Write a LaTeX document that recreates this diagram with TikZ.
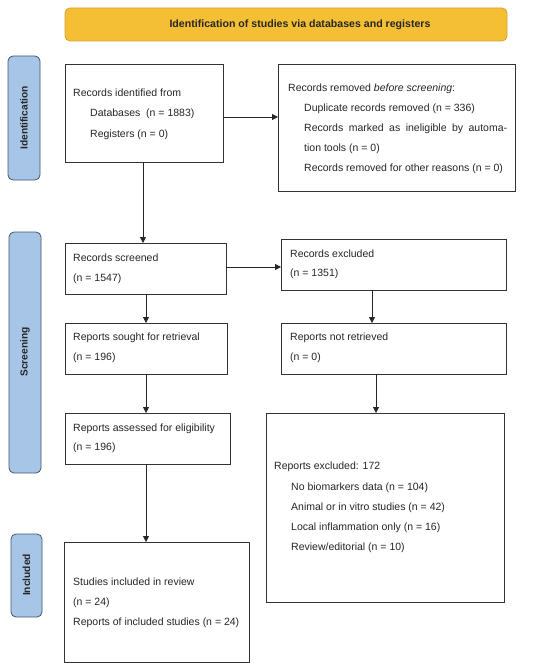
\documentclass[tikz,border=0pt]{standalone}
\usepackage{fontspec}
\setmainfont{Liberation Sans}
\usetikzlibrary{arrows.meta}
\definecolor{bannerfill}{HTML}{F5BF35}
\definecolor{bannerdraw}{HTML}{D2A22C}
\definecolor{sidefill}{HTML}{A6C5E7}
\definecolor{sidedraw}{HTML}{44546A}
\definecolor{boxdraw}{HTML}{333333}
\begin{document}
\begin{tikzpicture}[x=1pt,y=-1pt,
  box/.style={draw=boxdraw,line width=0.8pt,fill=white},
  txt/.style={anchor=west,inner sep=0pt,font=\fontsize{10.5}{12}\selectfont,text=black!85},
  side/.style={draw=sidedraw,fill=sidefill,rounded corners=5pt,line width=0.8pt},
  sidetxt/.style={rotate=90,font=\fontsize{10.2}{12}\selectfont\bfseries,text=black!85},
  arr/.style={line width=0.8pt,draw=black!85,-{Triangle[length=6pt,width=6pt]}}]
\useasboundingbox (0,0) rectangle (550,671);
% banner
\draw[draw=bannerdraw,fill=bannerfill,rounded corners=5pt,line width=0.8pt] (65,8) rectangle (507,41);
\node[font=\fontsize{10.6}{12}\selectfont\bfseries,text=black!85] (banner) at (300,25) {Identification of studies via databases and registers};
% side labels
\draw[side] (8,56) rectangle (40,180);
\node[sidetxt] (sideid) at (24,118) {Identification};
\draw[side] (9,232) rectangle (41,473);
\node[sidetxt] (sidescr) at (25,352) {Screening};
\draw[side] (11,534) rectangle (42,617);
\node[sidetxt] (sideinc) at (26.5,575) {Included};
% boxes
\draw[box] (65,64) rectangle (223,162);
\node[txt] (t1a) at (73,93) {Records identified from};
\node[txt] (t1b) at (90,114) {Databases\ \ (n = 1883)};
\node[txt] (t1c) at (90,135) {Registers (n = 0)};
\draw[box] (278,64) rectangle (515,191);
\node[txt] (t2a) at (288,89) {Records removed \textit{before screening}:};
\node[txt] (t2b) at (304,108.5) {Duplicate records removed (n = 336)};
\node[txt,text width=203pt,align=justify] (t2c) at (304,128.5) {Records\hfill marked\hfill as\hfill ineligible\hfill by\hfill automa-};
\node[txt] (t2d) at (304,149) {tion tools (n = 0)};
\node[txt] (t2e) at (304,169) {Records removed for other reasons (n = 0)};
\draw[box] (65,243) rectangle (226,294);
\node[txt] (t3a) at (73,258) {Records screened};
\node[txt] (t3b) at (73,279) {(n = 1547)};
\draw[box] (281,239) rectangle (506,290);
\node[txt] (t4a) at (290,254) {Records excluded};
\node[txt] (t4b) at (290,274) {(n = 1351)};
\draw[box] (65,323) rectangle (227,374);
\node[txt] (t5a) at (73,338) {Reports sought for retrieval};
\node[txt] (t5b) at (73,358) {(n = 196)};
\draw[box] (281,323) rectangle (506,374);
\node[txt] (t6a) at (290,338) {Reports not retrieved};
\node[txt] (t6b) at (290,358) {(n = 0)};
\draw[box] (65,413) rectangle (230,464);
\node[txt] (t7a) at (73,429) {Reports assessed for eligibility};
\node[txt] (t7b) at (73,448) {(n = 196)};
\draw[box] (266,413) rectangle (504,602);
\node[txt] (t8a) at (274,467) {Reports excluded: 172};
\node[txt] (t8b) at (291,488) {No biomarkers data (n = 104)};
\node[txt] (t8c) at (291,508) {Animal or in vitro studies (n = 42)};
\node[txt] (t8d) at (291,528) {Local inflammation only (n = 16)};
\node[txt] (t8e) at (291,548) {Review/editorial (n = 10)};
\draw[box] (64,542) rectangle (249,662);
\node[txt] (t9a) at (73,582) {Studies included in review};
\node[txt] (t9b) at (73,603) {(n = 24)};
\node[txt] (t9c) at (73,623) {Reports of included studies (n = 24)};
% connectors
\coordinate (b1r) at (223,117); \coordinate (b2l) at (278,117);
\draw[arr] (b1r) -- (b2l);
\coordinate (b1b) at (143,162); \coordinate (b3t) at (143,243);
\draw[arr] (b1b) -- (b3t);
\coordinate (b3r) at (226,267); \coordinate (b4l) at (281,267);
\draw[arr] (b3r) -- (b4l);
\coordinate (b3b) at (146,294); \coordinate (b5t) at (146,323);
\draw[arr] (b3b) -- (b5t);
\coordinate (b4b) at (372,290); \coordinate (b6t) at (372,323);
\draw[arr] (b4b) -- (b6t);
\coordinate (b5b) at (146,374); \coordinate (b7t) at (146,413);
\draw[arr] (b5b) -- (b7t);
\coordinate (b6b) at (376,374); \coordinate (b8t) at (376,413);
\draw[arr] (b6b) -- (b8t);
\coordinate (b7b) at (146,464); \coordinate (b9t) at (146,542);
\draw[arr] (b7b) -- (b9t);
\end{tikzpicture}
\end{document}
